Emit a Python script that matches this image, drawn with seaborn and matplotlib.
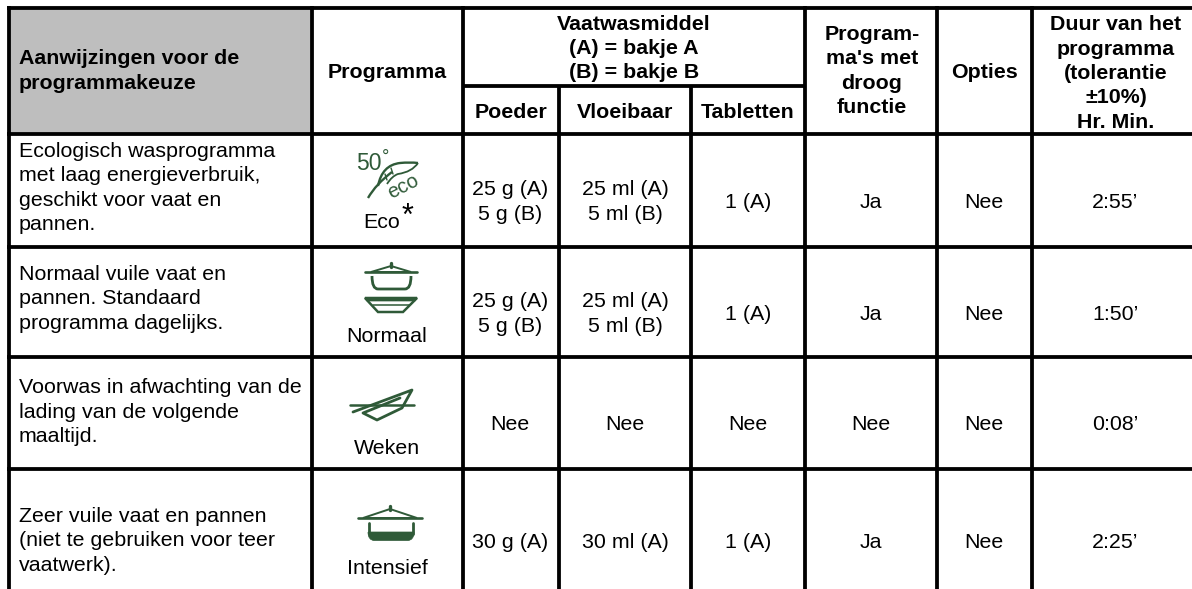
import numpy as np
import pandas as pd
import matplotlib.pyplot as plt
import seaborn as sns
from matplotlib.patches import Polygon, PathPatch
from matplotlib.path import Path

sns.set_theme(style="white")
plt.rcParams["font.family"] = ["Liberation Sans", "DejaVu Sans"]

W, H = 1192, 589
GREEN = "#2f5a38"

# grid positions in pixels
col_x = [9, 312, 463, 559, 691, 805, 937, 1032]
row_y = [8, 134, 247, 357, 469]
sub_y = 86

descriptions = [
    "Ecologisch wasprogramma\nmet laag energieverbruik,\ngeschikt voor vaat en\npannen.",
    "Normaal vuile vaat en\npannen. Standaard\nprogramma dagelijks.",
    "Voorwas in afwachting van de\nlading van de volgende\nmaaltijd.",
    "Zeer vuile vaat en pannen\n(niet te gebruiken voor teer\nvaatwerk).",
]
programs = ["Eco", "Normaal", "Weken", "Intensief"]
poeder = ["25 g (A)\n5 g (B)", "25 g (A)\n5 g (B)", "Nee", "30 g (A)"]
vloeibaar = ["25 ml (A)\n5 ml (B)", "25 ml (A)\n5 ml (B)", "Nee", "30 ml (A)"]
tabletten = ["1 (A)", "1 (A)", "Nee", "1 (A)"]
droog = ["Ja", "Ja", "Nee", "Ja"]
opties = ["Nee", "Nee", "Nee", "Nee"]
duur = ["2:55\u2019", "1:50\u2019", "0:08\u2019", "2:25\u2019"]

fig = plt.figure(figsize=(W / 100, H / 100), dpi=100, facecolor="white")
ax = fig.add_axes([0, 0, 1, 1])
ax.set_xlim(0, W)
ax.set_ylim(H, 0)
ax.axis("off")

# grey header cell
ax.fill_between([col_x[0], col_x[1]], row_y[0], row_y[1], color="#bebebe", lw=0)

# faint line above the table
ax.plot([7, W], [5.5, 5.5], color="#d0d0d0", lw=0.8)

# grid lines
lw = 3.8 * 72 / 100
for x in col_x:
    y0 = sub_y if x in (col_x[3], col_x[4]) else row_y[0] - 2
    ax.plot([x, x], [y0, H], color="black", lw=lw, solid_capstyle="butt")
for y in row_y:
    ax.plot([col_x[0] - 2, W], [y, y], color="black", lw=lw, solid_capstyle="butt")
ax.plot([col_x[2], col_x[5]], [sub_y, sub_y], color="black", lw=lw, solid_capstyle="butt")

HEAD = 15.4
BODY = 15.4
LINESP = 1.35


def head(x, y, s, ha="center"):
    ax.text(x, y, s, fontsize=HEAD, fontweight="bold", ha=ha, va="center", color="black", linespacing=LINESP)


def mid(i):
    return (col_x[i] + col_x[i + 1]) / 2


head(19, 71, "Aanwijzingen voor de\nprogrammakeuze", ha="left")
head(mid(1), 72, "Programma")
head((col_x[2] + col_x[5]) / 2, 48.5, "Vaatwasmiddel\n(A) = bakje A\n(B) = bakje B")
head(mid(2), 112, "Poeder")
head(mid(3), 112, "Vloeibaar")
head(mid(4), 112, "Tabletten")
head(872, 71, "Program-\nma's met\ndroog\nfunctie")
head(984, 72, "Opties")
head(1116, 73.5, "Duur van het\nprogramma\n(tolerantie\n\u00b110%)\nHr. Min.")

value_x = [510, 625, 748, 871, 984, 1115]
row_mid = [202, 314, 424, 542]
desc_y = [188, 299, 412, 541]
name_x = [382, 387, 387, 387]
name_y = [222, 337, 448, 569]
for i in range(4):
    ax.text(19, desc_y[i], descriptions[i], fontsize=BODY, ha="left", va="center", color="black", linespacing=LINESP)
    ax.text(name_x[i], name_y[i], programs[i], fontsize=BODY, ha="center", va="center", color="black")
    for x, vals in zip(value_x, [poeder, vloeibaar, tabletten, droog, opties, duur]):
        ax.text(x, row_mid[i], vals[i], fontsize=BODY, ha="center", va="center", color="black", linespacing=LINESP)
ax.text(407, 217, "*", fontsize=22, ha="center", va="center", color="black")


def curve(points, codes, **kw):
    ax.add_patch(PathPatch(Path(points, codes), **kw))


M, L, C3 = Path.MOVETO, Path.LINETO, Path.CURVE3

# eco icon
ax.text(356, 163, "50", fontsize=16.5, color=GREEN, ha="left", va="center")
ax.text(386, 157, "\u00b0", fontsize=13, color=GREEN, ha="center", va="center")
ax.text(403, 187, "eco", fontsize=14.5, color=GREEN, ha="center", va="center", rotation=27)
curve([(368, 198), (376, 184), (392, 172)], [M, C3, C3], fill=False, edgecolor=GREEN, lw=1.7)
curve([(378, 186), (382, 165), (400, 163), (410, 162), (418, 163)], [M, C3, C3, C3, C3],
      fill=False, edgecolor=GREEN, lw=1.7)
curve([(418, 163), (412, 172), (398, 174), (392, 176), (387, 184)], [M, C3, C3, C3, C3],
      fill=False, edgecolor=GREEN, lw=1.3)
ax.plot([385, 387], [174, 180], color=GREEN, lw=1.0)
ax.plot([391, 393], [168, 174], color=GREEN, lw=1.0)


def lid(cx, y, half, dome_half, top, knob):
    ax.plot([cx - half, cx + half], [y, y], color=GREEN, lw=1.9, solid_capstyle="round")
    ax.add_patch(Polygon([(cx - dome_half, y), (cx, top), (cx + dome_half, y)], closed=True,
                         fill=False, edgecolor=GREEN, lw=1.4))
    ax.plot([cx, cx], [top - knob, top + 1], color=GREEN, lw=2.4, solid_capstyle="round")


# normaal icon
lid(391, 272, 26, 20, 266, 3)
curve([(372, 276), (372, 289), (378, 289), (405, 289), (411, 289), (411, 276)],
      [M, C3, C3, L, C3, C3], fill=False, edgecolor=GREEN, lw=2.0)
ax.add_patch(Polygon([(365, 298), (417, 298), (403, 312), (378, 312)], closed=True, fill=False, edgecolor=GREEN, lw=1.8))
ax.add_patch(Polygon([(365, 298), (417, 298), (415, 301), (367, 301)], closed=True, facecolor=GREEN, edgecolor=GREEN, lw=0.5))
ax.plot([373, 409], [305, 305], color=GREEN, lw=1.1)

# weken icon
ax.plot([350, 414], [405, 405], color=GREEN, lw=1.8)
ax.plot([353, 412, 402, 377, 363, 400], [412, 390, 408, 420, 413, 398], color=GREEN, lw=2.0, solid_joinstyle="round")

# intensief icon
lid(390, 518, 32, 27, 509, 3.5)
ax.plot([369, 369], [523, 534], color=GREEN, lw=2.0)
ax.plot([413, 413], [523, 534], color=GREEN, lw=2.0)
curve([(368, 532), (414, 532), (414, 540), (408, 540.5), (374, 540.5), (368, 540), (368, 532)],
      [M, L, C3, C3, L, C3, C3], facecolor=GREEN, edgecolor=GREEN, lw=0.5)

fig.savefig("out.png", dpi=100, facecolor="white")
